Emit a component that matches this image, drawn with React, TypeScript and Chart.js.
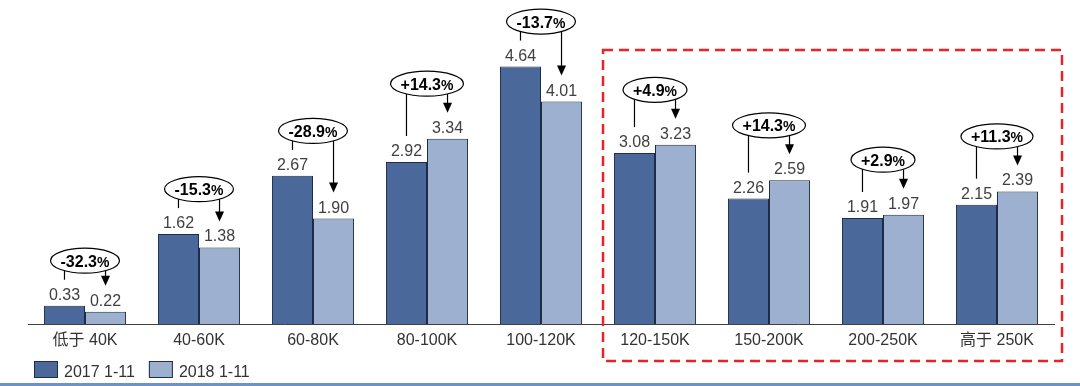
import React, { useEffect, useRef } from 'react';
import { Chart, registerables } from 'chart.js';

Chart.register(...registerables);

const categories = ['低于 40K', '40-60K', '60-80K', '80-100K', '100-120K', '120-150K', '150-200K', '200-250K', '高于 250K'];
const sales2017 = [0.33, 1.62, 2.67, 2.92, 4.64, 3.08, 2.26, 1.91, 2.15];
const sales2018 = [0.22, 1.38, 1.90, 3.34, 4.01, 3.23, 2.59, 1.97, 2.39];
const changePct = [-32.3, -15.3, -28.9, 14.3, -13.7, 4.9, 14.3, 2.9, 11.3];
const seriesLabels = ['2017 1-11', '2018 1-11'];
const highlightFrom = 5;

const COLORS = ['#4a6899', '#9eb0cf'];
const BORDER = '#1f2c45';
const FONT = '"Liberation Sans", "Noto Sans CJK SC", sans-serif';

const annotPlugin = {
  id: 'annot',
  afterDatasetsDraw(chart: any) {
    const ctx = chart.ctx as CanvasRenderingContext2D;
    const m0 = chart.getDatasetMeta(0).data;
    const m1 = chart.getDatasetMeta(1).data;
    ctx.save();
    ctx.font = `16px ${FONT}`;
    ctx.fillStyle = '#404040';
    ctx.textAlign = 'center';
    ctx.textBaseline = 'alphabetic';
    [sales2017, sales2018].forEach((arr, d) => {
      const meta = d === 0 ? m0 : m1;
      arr.forEach((v, i) => {
        ctx.fillText(v.toFixed(2), meta[i].x, meta[i].y - 6);
      });
    });

    changePct.forEach((c, i) => {
      const b0 = m0[i];
      const b1 = m1[i];
      const cx = (b0.x + b1.x) / 2;
      const cy = Math.min(b0.y, b1.y) - (c < 0 ? 45 : 55);
      const num = (c > 0 ? '+' : '') + c.toFixed(1);
      ctx.font = `bold 16px ${FONT}`;
      const wNum = ctx.measureText(num).width;
      ctx.font = `bold 14px ${FONT}`;
      const wPct = ctx.measureText('%').width;
      const tw = wNum + wPct;
      const rx = (tw + 20) / 2;
      const ry = 12.5;
      ctx.strokeStyle = '#000';
      ctx.lineWidth = 1.2;
      ctx.beginPath();
      ctx.moveTo(b0.x, cy);
      ctx.lineTo(b0.x, b0.y - 26);
      ctx.stroke();
      const tip = b1.y - 26;
      ctx.beginPath();
      ctx.moveTo(b1.x, cy);
      ctx.lineTo(b1.x, tip - 8);
      ctx.stroke();
      ctx.fillStyle = '#000';
      ctx.beginPath();
      ctx.moveTo(b1.x - 4.5, tip - 10);
      ctx.lineTo(b1.x + 4.5, tip - 10);
      ctx.lineTo(b1.x, tip);
      ctx.closePath();
      ctx.fill();
      ctx.beginPath();
      ctx.ellipse(cx, cy, rx, ry, 0, 0, Math.PI * 2);
      ctx.fillStyle = '#fff';
      ctx.fill();
      ctx.stroke();
      ctx.fillStyle = '#000';
      ctx.textAlign = 'left';
      ctx.textBaseline = 'alphabetic';
      const x0 = cx - tw / 2;
      ctx.font = `bold 16px ${FONT}`;
      ctx.fillText(num, x0, cy + 6);
      ctx.font = `bold 14px ${FONT}`;
      ctx.fillText('%', x0 + wNum, cy + 6);
    });
    ctx.restore();
  },
  afterDraw(chart: any) {
    const ctx = chart.ctx as CanvasRenderingContext2D;
    const xs = chart.scales.x;
    const area = chart.chartArea;
    ctx.save();
    // highlight box
    const left = (xs.getPixelForValue(highlightFrom - 1) + xs.getPixelForValue(highlightFrom)) / 2 + 5;
    const right = area.right + 8;
    const top = area.top + 50;
    const bottom = chart.height - 25;
    ctx.strokeStyle = '#e3262b';
    ctx.lineWidth = 2.5;
    ctx.setLineDash([10, 6]);
    ctx.strokeRect(left, top, right - left, bottom - top);
    ctx.setLineDash([]);

    // legend
    ctx.font = `16px ${FONT}`;
    ctx.textAlign = 'left';
    ctx.textBaseline = 'alphabetic';
    let lx = 34;
    seriesLabels.forEach((lab, d) => {
      ctx.fillStyle = COLORS[d];
      ctx.fillRect(lx, 361, 24, 17);
      ctx.strokeStyle = BORDER;
      ctx.lineWidth = 1;
      ctx.strokeRect(lx + 0.5, 361.5, 23, 16);
      ctx.fillStyle = '#333';
      ctx.fillText(lab, lx + 30, 377);
      lx += 30 + ctx.measureText(lab).width + 14;
    });

    // bottom rule
    ctx.fillStyle = '#7090c6';
    ctx.fillRect(0, 383, chart.width, 3);
    ctx.restore();
  },
};

export default function App() {
  const ref = useRef<HTMLCanvasElement>(null);
  useEffect(() => {
    if (!ref.current) return;
    const chart = new Chart(ref.current, {
      type: 'bar',
      data: {
        labels: categories,
        datasets: [
          {
            label: seriesLabels[0],
            data: sales2017,
            backgroundColor: COLORS[0],
            borderColor: BORDER,
            borderWidth: 1,
            categoryPercentage: 0.72,
            barPercentage: 1,
          },
          {
            label: seriesLabels[1],
            data: sales2018,
            backgroundColor: COLORS[1],
            borderColor: BORDER,
            borderWidth: 1,
            categoryPercentage: 0.72,
            barPercentage: 1,
          },
        ],
      },
      options: {
        responsive: false,
        animation: false,
        devicePixelRatio: 1,
        layout: { padding: { left: 28, right: 26, top: 0, bottom: 0 } },
        plugins: { legend: { display: false }, tooltip: { enabled: false } },
        scales: {
          x: {
            grid: { display: false, drawTicks: false },
            border: { display: true, color: '#404040', width: 1 },
            ticks: {
              color: '#333',
              font: { size: 16, family: FONT },
              padding: 7,
              maxRotation: 0,
              autoSkip: false,
            },
            afterFit: (scale: any) => {
              scale.height = 62;
            },
          },
          y: { display: false, min: 0, max: 5.84 },
        },
      },
      plugins: [annotPlugin],
    });
    return () => chart.destroy();
  }, []);
  return (
    <div style={{ position: 'absolute', left: 0, top: 0, width: 1080, height: 386, background: '#fff' }}>
      <canvas ref={ref} width={1080} height={386} style={{ width: 1080, height: 386, display: 'block' }} />
    </div>
  );
}
